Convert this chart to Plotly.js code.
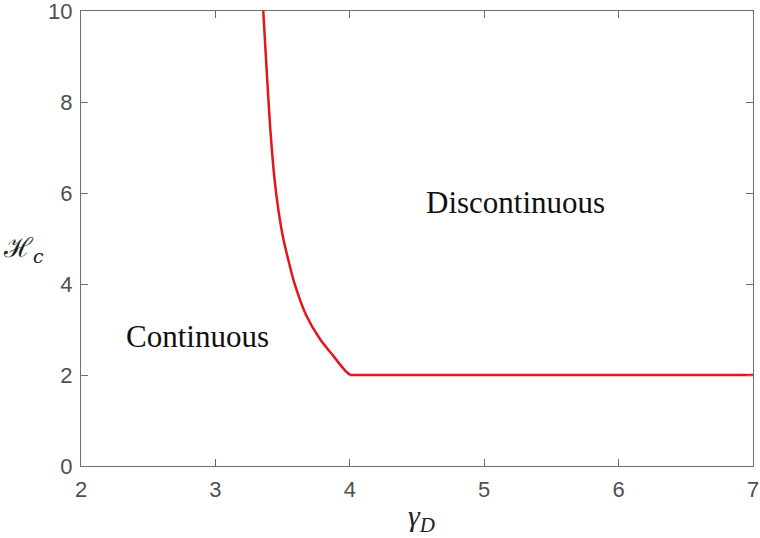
<!DOCTYPE html>
<html>
<head>
<meta charset="utf-8">
<script src="https://cdn.plot.ly/plotly-3.0.1.min.js"></script>
<style>html,body{margin:0;padding:0;background:#fff;}#chart{width:760px;height:538px;}</style>
</head>
<body>
<div id="chart"></div>
<script>
// Phase boundary
const gammaCurve = [3.356, 3.382, 3.411, 3.440, 3.470, 3.505, 3.545, 3.592, 3.679, 3.778, 3.877, 3.959, 3.994, 4.0];
const hCurve     = [10.0, 8.67, 7.31, 6.30, 5.60, 5.00, 4.50, 3.98, 3.29, 2.79, 2.42, 2.12, 2.02, 2.0];
const gammaFlat  = [4.0, 7.0];
const hFlat      = [2.0, 2.0];
const xTicks = [2, 3, 4, 5, 6, 7];
const yTicks = [0, 2, 4, 6, 8, 10];
const greenTick = [3];
const regionLabels = ["Continuous", "Discontinuous"];
const regionX = [2.87, 5.23];
const regionY = [2.84, 5.8];

const red = '#e3161c';
const data = [
  {x: gammaCurve, y: hCurve, mode: 'lines', line: {color: red, width: 2.5, shape: 'spline', smoothing: 1}, hoverinfo: 'skip'},
  {x: gammaFlat, y: hFlat, mode: 'lines', line: {color: red, width: 2.5}, hoverinfo: 'skip'},
  {x: [], y: [], xaxis: 'x2', yaxis: 'y', mode: 'lines', hoverinfo: 'skip'}
];

function axisBase() {
  return {
    showgrid: false, zeroline: false, showline: true, mirror: 'ticks',
    linecolor: '#6e6e6e', linewidth: 1, ticks: 'inside', ticklen: 7,
    tickcolor: '#6e6e6e', tickwidth: 1, ticklabeloverflow: 'allow',
    tickfont: {family: 'Liberation Sans', size: 22, color: '#4f4f4f'}
  };
}

const pw = 760 - 81 - 7, ph = 538 - 11 - 71.5;
const layout = {
  width: 760, height: 538,
  margin: {l: 81, r: 7, t: 11, b: 71.5},
  paper_bgcolor: '#ffffff', plot_bgcolor: '#ffffff',
  showlegend: false,
  xaxis: Object.assign(axisBase(), {range: [2, 7], tickmode: 'array', tickvals: xTicks, ticktext: xTicks.map(String), ticklabelstandoff: 4}),
  yaxis: Object.assign(axisBase(), {range: [0, 10], tickmode: 'array', tickvals: yTicks, ticktext: yTicks.map(String), ticklabelstandoff: 3}),
  xaxis2: {overlaying: 'x', matches: 'x', range: [2, 7], tickmode: 'array', tickvals: greenTick, ticks: 'inside', ticklen: 7,
           tickcolor: '#2e8b3a', tickwidth: 1, showticklabels: false, showline: false, showgrid: false,
           zeroline: false, mirror: 'ticks'},
  annotations: [
    {x: regionX[0], y: regionY[0], xref: 'x', yref: 'y', text: regionLabels[0], showarrow: false,
     xanchor: 'center', yanchor: 'middle',
     font: {family: 'Liberation Serif', size: 31, color: '#111111'}},
    {x: regionX[1], y: regionY[1], xref: 'x', yref: 'y', text: regionLabels[1], showarrow: false,
     xanchor: 'center', yanchor: 'middle',
     font: {family: 'Liberation Serif', size: 31, color: '#111111'}},
    {x: (421 - 81) / pw, y: (466.5 - 519) / ph, xref: 'paper', yref: 'paper', text: '<i>γ</i><sub><i>D</i></sub>', showarrow: false,
     xanchor: 'center', yanchor: 'middle',
     font: {family: 'Liberation Serif', size: 30, color: '#222222'}},
    {x: (23 - 81) / pw, y: (466.5 - 250) / ph, xref: 'paper', yref: 'paper', text: 'ℋ<sub><i>c</i></sub>', showarrow: false,
     xanchor: 'center', yanchor: 'middle',
     font: {family: 'DejaVu Serif', size: 27, color: '#222222'}}
  ]
};

Plotly.newPlot('chart', data, layout, {displayModeBar: false, staticPlot: true});
</script>
</body>
</html>
